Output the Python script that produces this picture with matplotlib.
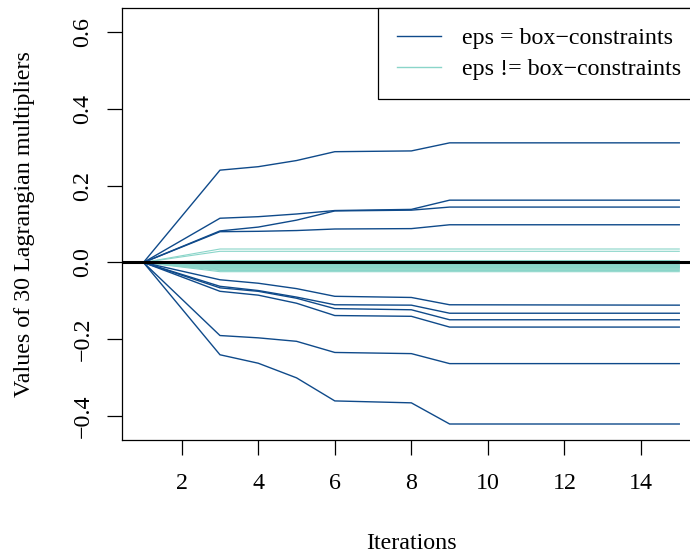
import matplotlib
matplotlib.use("Agg")
import matplotlib.pyplot as plt
from matplotlib.lines import Line2D

plt.rcParams["font.family"] = ["Liberation Serif", "DejaVu Serif"]

# Iterations at which the multipliers were recorded
iterations = [1, 3, 4, 5, 6, 8, 9, 15]

# Multipliers whose eps equals the box constraints
box_lines = [
    [0.0, 0.240, 0.249, 0.265, 0.288, 0.290, 0.311, 0.311],
    [0.0, 0.115, 0.119, 0.126, 0.135, 0.138, 0.162, 0.162],
    [0.0, 0.082, 0.092, 0.110, 0.134, 0.136, 0.144, 0.144],
    [0.0, 0.080, 0.081, 0.083, 0.087, 0.088, 0.098, 0.098],
    [0.0, -0.045, -0.054, -0.068, -0.088, -0.091, -0.110, -0.111],
    [0.0, -0.062, -0.073, -0.090, -0.110, -0.111, -0.132, -0.132],
    [0.0, -0.066, -0.075, -0.093, -0.120, -0.123, -0.149, -0.149],
    [0.0, -0.075, -0.085, -0.106, -0.138, -0.140, -0.168, -0.168],
    [0.0, -0.190, -0.196, -0.205, -0.234, -0.237, -0.263, -0.263],
    [0.0, -0.240, -0.262, -0.300, -0.360, -0.365, -0.420, -0.420],
]

# Final values of the multipliers whose eps differs from the box constraints
other_final = [0.035, 0.029, 0.005, 0.002, -0.001, -0.003, -0.005, -0.006,
               -0.008, -0.009, -0.010, -0.011, -0.012, -0.013, -0.014,
               -0.015, -0.017, -0.019, -0.021, -0.024]

dark = "#0f4a8a"
teal = "#8ad5c9"
fs = 17.3

fig = plt.figure(figsize=(6.9, 5.55), dpi=100)
ax = fig.add_axes([122 / 690, 115 / 555, (700.7 - 122) / 690, 432 / 555])

for v in other_final:
    ax.plot(iterations, [0.0] + [v] * (len(iterations) - 1), color=teal, lw=0.8)
for ys in box_lines:
    ax.plot(iterations, ys, color=dark, lw=1.0)

ax.axhline(0.0, color="black", lw=2.2, zorder=5)

ax.set_xlim(0.44, 15.56)
ax.set_ylim(-0.4616, 0.6616)
ax.set_xticks([2, 4, 6, 8, 10, 12, 14])
ax.set_yticks([-0.4, -0.2, 0.0, 0.2, 0.4, 0.6])
ax.set_yticklabels(["\u22120.4", "\u22120.2", "0.0", "0.2", "0.4", "0.6"],
                   rotation=90, va="center")
ax.tick_params(axis="both", length=10.5, width=0.9, labelsize=fs)
ax.tick_params(axis="x", pad=13)
ax.tick_params(axis="y", pad=10)
for s in ax.spines.values():
    s.set_linewidth(0.9)

ax.set_xlabel("Iterations", fontsize=fs, labelpad=28)
ax.set_ylabel("Values of 30 Lagrangian multipliers", fontsize=fs, labelpad=27)

handles = [Line2D([], [], color=dark, lw=1.0), Line2D([], [], color=teal, lw=1.0)]
leg = ax.legend(handles, ["eps = box\u2212constraints", "eps != box\u2212constraints"],
                loc="upper right", borderaxespad=0, fancybox=False,
                edgecolor="black", framealpha=1, fontsize=fs,
                handlelength=1.8, handletextpad=0.9, borderpad=0.8,
                labelspacing=0.38)
leg.get_frame().set_linewidth(0.9)

fig.savefig("out.png", dpi=100)
